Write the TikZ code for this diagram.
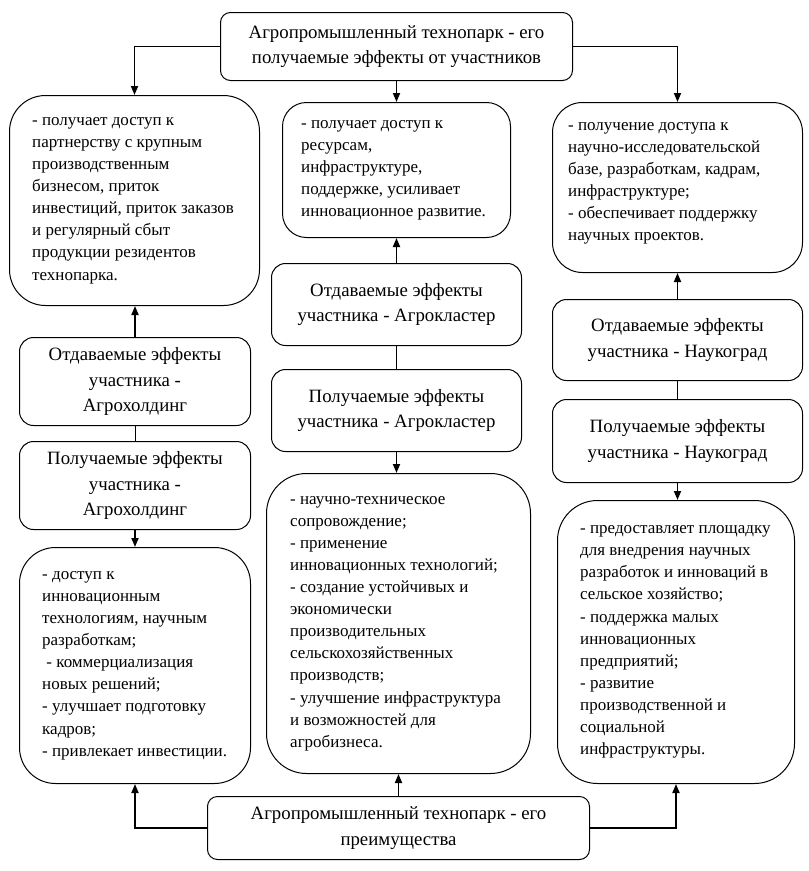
\documentclass[tikz,border=0pt]{standalone}
\usepackage{fontspec}
\setmainfont{Liberation Serif}
\usetikzlibrary{arrows.meta}
\begin{document}
\begin{tikzpicture}[x=1pt,y=-1pt,
  box/.style={draw=black, line width=1pt, anchor=north west, inner sep=0pt},
  head/.style={align=center, font=\fontsize{18.8}{25.5}\selectfont},
  bodytext/.style={anchor=west, align=left, inner sep=0pt, font=\fontsize{17}{22.1}\selectfont},
  arr/.style={line width=1.7pt, -{Triangle[length=9pt,width=7pt]}},
  ln/.style={line width=0.8pt}]
\useasboundingbox (0,0) rectangle (809,871);
% top
\node[box, rounded corners=10pt, minimum width=352pt, minimum height=68pt, head] (top) at (220,12) {Агропромышленный технопарк - его\\получаемые эффекты от участников};
% top row body boxes
\node[box, rounded corners=36pt, minimum width=250pt, minimum height=210pt] (lt) at (9,95) {};
\node[bodytext] (ltt) at ([xshift=23pt]lt.west) {- получает доступ к\\партнерству с крупным\\производственным\\бизнесом, приток\\инвестиций, приток заказов\\и регулярный сбыт\\продукции резидентов\\технопарка.};
\node[box, rounded corners=24pt, minimum width=228pt, minimum height=135pt] (mt) at (282,102) {};
\node[bodytext] (mtt) at ([xshift=19pt]mt.west) {- получает доступ к\\ресурсам,\\инфраструктуре,\\поддержке, усиливает\\инновационное развитие.};
\node[box, rounded corners=30pt, minimum width=250pt, minimum height=170pt] (rt) at (552,102) {};
\node[bodytext] (rtt) at ([xshift=16pt, yshift=4pt]rt.west) {- получение доступа к\\научно-исследовательской\\базе, разработкам, кадрам,\\инфраструктуре;\\- обеспечивает поддержку\\научных проектов.};
% participant boxes
\node[box, rounded corners=14pt, minimum width=231pt, minimum height=88pt, head] (lo) at (19,337) {Отдаваемые эффекты\\участника -\\Агрохолдинг};
\node[box, rounded corners=14pt, minimum width=231pt, minimum height=88pt, head] (lp) at (19,441) {Получаемые эффекты\\участника -\\Агрохолдинг};
\node[box, rounded corners=14pt, minimum width=250pt, minimum height=82pt, head] (mo) at (271,263) {Отдаваемые эффекты\\участника - Агрокластер};
\node[box, rounded corners=14pt, minimum width=250pt, minimum height=82pt, head] (mp) at (271,369) {Получаемые эффекты\\участника - Агрокластер};
\node[box, rounded corners=14pt, minimum width=250pt, minimum height=81pt, head] (ro) at (552,299) {Отдаваемые эффекты\\участника - Наукоград};
\node[box, rounded corners=14pt, minimum width=250pt, minimum height=83pt, head] (rp) at (552,399) {Получаемые эффекты\\участника - Наукоград};
% bottom body boxes
\node[box, rounded corners=36pt, minimum width=231pt, minimum height=236pt] (lb) at (19,547) {};
\node[bodytext] (lbt) at ([xshift=23pt]lb.west) {- доступ к\\инновационным\\технологиям, научным\\разработкам;\\\ - коммерциализация\\новых решений;\\- улучшает подготовку\\кадров;\\- привлекает инвестиции.};
\node[box, rounded corners=40pt, minimum width=264pt, minimum height=300pt] (mb) at (266,473) {};
\node[bodytext] (mbt) at ([xshift=24pt]mb.west) {- научно-техническое\\сопровождение;\\- применение\\инновационных технологий;\\- создание устойчивых и\\экономически\\производительных\\сельскохозяйственных\\производств;\\- улучшение инфраструктура\\и возможностей для\\агробизнеса.};
\node[box, rounded corners=40pt, minimum width=237pt, minimum height=283pt] (rb) at (557,500) {};
\node[bodytext] (rbt) at ([xshift=23pt]rb.west) {- предоставляет площадку\\для внедрения научных\\разработок и инноваций в\\сельское хозяйство;\\- поддержка малых\\инновационных\\предприятий;\\- развитие\\производственной и\\социальной\\инфраструктуры.};
% bottom
\node[box, rounded corners=10pt, minimum width=382pt, minimum height=63pt, head] (bot) at (207,796) {Агропромышленный технопарк - его\\преимущества};
% connectors
\draw[arr] (top.west) -| (lt.north);
\draw[arr] (top.south) -- (mt.north);
\draw[arr] (top.east) -| (rt.north);
\draw[arr] (mo.north) -- (mt.south);
\draw[ln] (mo.south) -- (mp.north);
\draw[arr] (mp.south) -- (mp.south |- mb.north);
\draw[arr] (lo.north) -- (lo.north |- lt.south);
\draw[ln] (lo.south) -- (lp.north);
\draw[arr] (lp.south) -- (lb.north);
\draw[arr] (ro.north) -- (ro.north |- rt.south);
\draw[ln] (ro.south) -- (rp.north);
\draw[arr] (rp.south) -- (rp.south |- rb.north);
\draw[arr] (bot.west) -| (lb.south);
\draw[arr] (bot.north) -- (bot.north |- mb.south);
\draw[arr] (bot.east) -| (rb.south);
\end{tikzpicture}
\end{document}
